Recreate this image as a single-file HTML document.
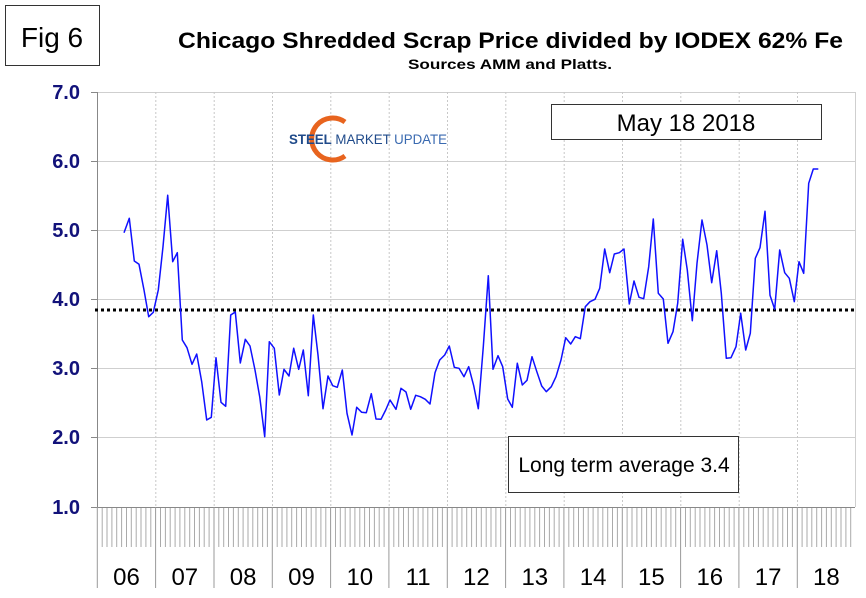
<!DOCTYPE html>
<html><head><meta charset="utf-8"><style>
html,body{margin:0;padding:0;background:#fff;}
svg{display:block;font-family:"Liberation Sans",Arial,sans-serif;}
</style></head><body>
<svg width="866" height="598" viewBox="0 0 866 598" xmlns="http://www.w3.org/2000/svg">
<rect x="0" y="0" width="866" height="598" fill="#fff"/>
<rect x="5.5" y="5.5" width="94" height="60" fill="#fff" stroke="#333" stroke-width="1"/>
<text x="52" y="47" font-size="28" text-anchor="middle" fill="#000">Fig 6</text>
<text x="178" y="48" font-size="22" font-weight="bold" fill="#000" textLength="665" lengthAdjust="spacingAndGlyphs">Chicago Shredded Scrap Price divided by IODEX 62% Fe</text>
<text x="408" y="69" font-size="14" font-weight="bold" fill="#000" textLength="204" lengthAdjust="spacingAndGlyphs">Sources AMM and Platts.</text>
<g stroke="#cfcfcf" stroke-width="1">
<line x1="97" y1="92.5" x2="855" y2="92.5"/>
<line x1="97" y1="161.5" x2="855" y2="161.5"/>
<line x1="97" y1="230.5" x2="855" y2="230.5"/>
<line x1="97" y1="299.5" x2="855" y2="299.5"/>
<line x1="97" y1="368.5" x2="855" y2="368.5"/>
<line x1="97" y1="437.5" x2="855" y2="437.5"/>
<line x1="855.5" y1="92" x2="855.5" y2="507"/>
</g>
<g stroke="#c8c8c8" stroke-width="1" stroke-dasharray="2,2">
<line x1="155.8" y1="92" x2="155.8" y2="507"/><line x1="214.2" y1="92" x2="214.2" y2="507"/>
<line x1="272.5" y1="92" x2="272.5" y2="507"/><line x1="330.8" y1="92" x2="330.8" y2="507"/>
<line x1="389.2" y1="92" x2="389.2" y2="507"/><line x1="447.5" y1="92" x2="447.5" y2="507"/>
<line x1="505.8" y1="92" x2="505.8" y2="507"/><line x1="564.2" y1="92" x2="564.2" y2="507"/>
<line x1="622.5" y1="92" x2="622.5" y2="507"/><line x1="680.8" y1="92" x2="680.8" y2="507"/>
<line x1="739.2" y1="92" x2="739.2" y2="507"/><line x1="797.5" y1="92" x2="797.5" y2="507"/>
</g>
<line x1="97.5" y1="92" x2="97.5" y2="507" stroke="#888" stroke-width="1"/>
<g stroke="#888" stroke-width="1">
<line x1="91" y1="92.5" x2="97" y2="92.5"/><line x1="91" y1="161.5" x2="97" y2="161.5"/>
<line x1="91" y1="230.5" x2="97" y2="230.5"/><line x1="91" y1="299.5" x2="97" y2="299.5"/>
<line x1="91" y1="368.5" x2="97" y2="368.5"/><line x1="91" y1="437.5" x2="97" y2="437.5"/>
</g>
<g font-size="20" font-weight="bold" fill="#12127a" text-anchor="end">
<text x="80" y="99">7.0</text><text x="80" y="168">6.0</text><text x="80" y="237">5.0</text>
<text x="80" y="306">4.0</text><text x="80" y="375">3.0</text><text x="80" y="444">2.0</text>
<text x="80" y="514">1.0</text>
</g>
<line x1="91" y1="507.5" x2="855" y2="507.5" stroke="#888" stroke-width="1"/>
<g id="ticks" stroke="#aaa" stroke-width="1"></g>
<g id="majors" stroke="#999" stroke-width="1"></g>
<g id="labels" font-size="24" fill="#000" text-anchor="middle"></g>
<path d="M345 122 A21 21 0 1 0 345 156" fill="none" stroke="#e8641e" stroke-width="5"/>
<text x="289" y="144" font-size="14" fill="#1f4a8a" textLength="158" lengthAdjust="spacingAndGlyphs"><tspan font-weight="bold">STEEL</tspan> MARKET <tspan fill="#3a6ab0">UPDATE</tspan></text>
<line x1="95" y1="310" x2="855" y2="310" stroke="#000" stroke-width="3" stroke-dasharray="3,3"/>
<polyline fill="none" stroke="#1010ff" stroke-width="1.5" stroke-linejoin="round" points="124,232.7 129.3,218.3 134.3,261 139,264.3 144,290 148.7,316.7 153.3,312.3 158.3,290 163,246.7 167.7,195.3 172.7,261.7 177.3,252.7 182.3,340 187,347.7 192,364.3 196.7,354 201.7,381.7 206.7,420 211.3,417.3 216,357.7 221,402.3 225.7,406.3 230.7,315 235.3,312 240.3,363 245.3,339.3 250,346 255,370 259.7,396.7 264.7,436.7 269.3,341.7 274.3,348.3 279.3,395 284,369.3 289,376 293.7,348.3 298.7,369.3 303.3,350 308.3,395.7 313.3,315 318,355 323,408.7 328,376 332.7,385.7 337.3,387.3 342.3,370 347,413.3 352,435 356.7,407.3 361.7,412.3 366.3,412.7 371.3,393.7 376,419 381,419.3 385.7,410 390,400 396,409.3 401,388.3 406,392 410.7,409.3 415.7,395.3 420.3,396.7 425.3,399.3 430,404 435,372.7 439.7,360 444.7,355 449.3,346 454.3,367.3 459,368.3 464,376.7 468.7,366.7 473.7,385.7 478.3,408.7 483.3,346.7 488.3,275.7 493,369.3 498,355.7 502.7,366.7 507.7,399 512.3,407.3 517.3,363.3 522.3,385 527,380.3 532,356.7 536.7,371.3 541.7,386 546.3,391.7 551.3,386.7 556,376.7 561,360 565.7,337.7 570.7,344 575.3,336.7 580.3,338.7 585.3,306.7 590,301.7 595,299.3 599.7,288.3 604.7,249 609.7,272.7 614.3,254 619.3,252.7 624,249 629.3,304 634,281 639,297.3 643.7,298.7 648.7,266.7 653.3,219 658.3,293.3 663.3,299 668,343.3 673,331.7 677.7,303.3 682.7,239.3 687.3,270 692.3,320.7 697,263.3 702,220 707,245 711.7,282.7 716.7,250.7 721.3,293.3 726.3,358.3 731,357.7 736,346.7 740.7,313.3 745.7,350 750.3,333.3 755.3,258.3 760,247.7 765,211.3 770,295.3 774.7,309.3 779.7,250 784.7,272.7 789.3,278.3 794.3,301.7 799,261.7 803.7,273.3 808.7,183.3 813.3,169 818.3,169"/>
<rect x="551.5" y="104.5" width="270" height="35" fill="#fff" stroke="#333" stroke-width="1"/>
<text x="686" y="131" font-size="24" text-anchor="middle" fill="#000">May 18 2018</text>
<rect x="508.5" y="436.5" width="230" height="56" fill="#fff" stroke="#333" stroke-width="1"/>
<text x="624" y="472" font-size="21" text-anchor="middle" fill="#000">Long term average 3.4</text>
<script>
(function(){
var ns="http://www.w3.org/2000/svg";
var t=document.getElementById("ticks"),m=document.getElementById("majors"),l=document.getElementById("labels");
var x0=97.3,yr=58.33,mo=yr/12;
for(var i=0;i<156;i++){
 var x=x0+i*mo;
 var ln=document.createElementNS(ns,"line");
 ln.setAttribute("x1",x.toFixed(1));ln.setAttribute("x2",x.toFixed(1));
 if(i%12===0){ln.setAttribute("y1","507");ln.setAttribute("y2","588");m.appendChild(ln);}
 else {ln.setAttribute("y1","508");ln.setAttribute("y2","547");t.appendChild(ln);}
}
for(var y=0;y<13;y++){
 var tx=document.createElementNS(ns,"text");
 tx.setAttribute("x",(x0+y*yr+yr/2).toFixed(1));tx.setAttribute("y","585");
 tx.textContent=(y+6<10?"0":"")+(y+6);l.appendChild(tx);
}
})();
</script>
</svg>
</body></html>
